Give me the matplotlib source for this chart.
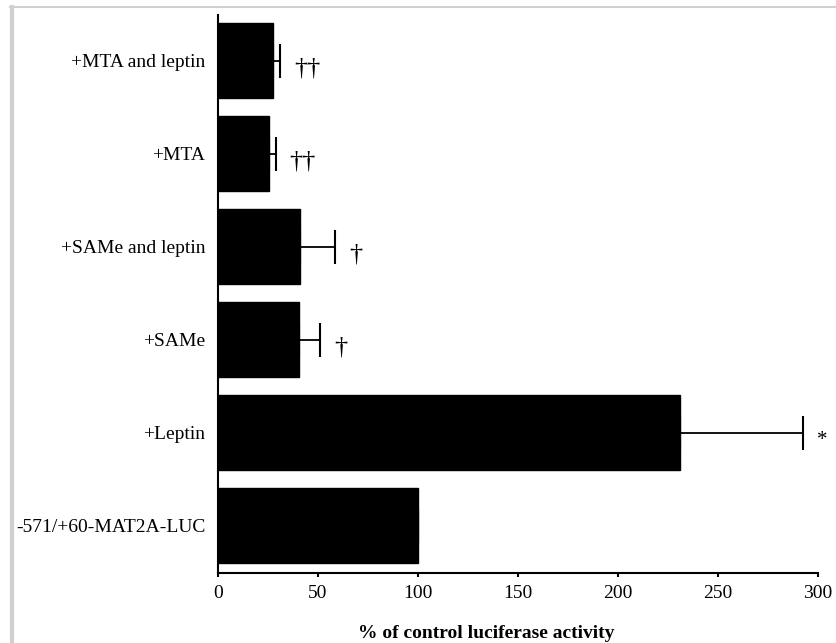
import matplotlib

matplotlib.use("Agg")

import matplotlib.pyplot as plt
from matplotlib.lines import Line2D
import numpy as np

# bottom to top
CATEGORIES = [
    "-571/+60-MAT2A-LUC",
    "+Leptin",
    "+SAMe",
    "+SAMe and leptin",
    "+MTA",
    "+MTA and leptin",
]
VALUES = [100.0, 231.0, 40.5, 41.0, 25.5, 27.3]
ERRORS = [0.0, 61.3, 10.5, 17.5, 3.3, 3.9]
MARKS = ["", "*", "\u2020", "\u2020", "\u2020\u2020", "\u2020\u2020"]
TICKS = [0, 50, 100, 150, 200, 250, 300]

plt.rcParams["font.family"] = ["Liberation Serif", "DejaVu Serif"]

fig = plt.figure(figsize=(8.36, 6.43), dpi=100)
ax = fig.add_axes([0.2608, 0.1089, 0.7177, 0.8678])

pos = np.arange(len(CATEGORIES))
lower = np.zeros(len(ERRORS))
ax.barh(pos, VALUES, height=0.8, color="black", edgecolor="black")
ax.errorbar(
    VALUES,
    pos,
    xerr=[lower, ERRORS],
    fmt="none",
    ecolor="black",
    elinewidth=1.3,
    capsize=12,
    capthick=1.5,
)

for p, v, e, m in zip(pos, VALUES, ERRORS, MARKS):
    if m:
        size = 15 if m == "*" else 19
        ax.text(v + e + 7, p - 0.09, m, fontsize=size, va="center", ha="left",
                clip_on=False)

ax.set_xlim(0, 300)
ax.set_ylim(-0.51, 5.49)
ax.set_xticks(TICKS)
ax.set_yticks(pos)
ax.set_yticklabels(CATEGORIES, fontsize=14)
ax.tick_params(axis="x", labelsize=14, direction="out", length=3, width=1.5,
               pad=6)
ax.tick_params(axis="y", length=0, pad=9)
for side in ("top", "right"):
    ax.spines[side].set_visible(False)
for side in ("left", "bottom"):
    ax.spines[side].set_linewidth(1.5)
ax.set_xlabel("% of control luciferase activity", fontsize=14,
              fontweight="bold")
ax.xaxis.set_label_coords(0.447, -0.094)

# light grey frame on the top and left of the picture
fig.add_artist(Line2D([11.5 / 836, 11.5 / 836], [0, 636 / 643],
                      transform=fig.transFigure, color="#d0d0d0", lw=3))
fig.add_artist(Line2D([10 / 836, 1], [636 / 643, 636 / 643],
                      transform=fig.transFigure, color="#d0d0d0", lw=1.5))

fig.savefig("out.png", dpi=100)
